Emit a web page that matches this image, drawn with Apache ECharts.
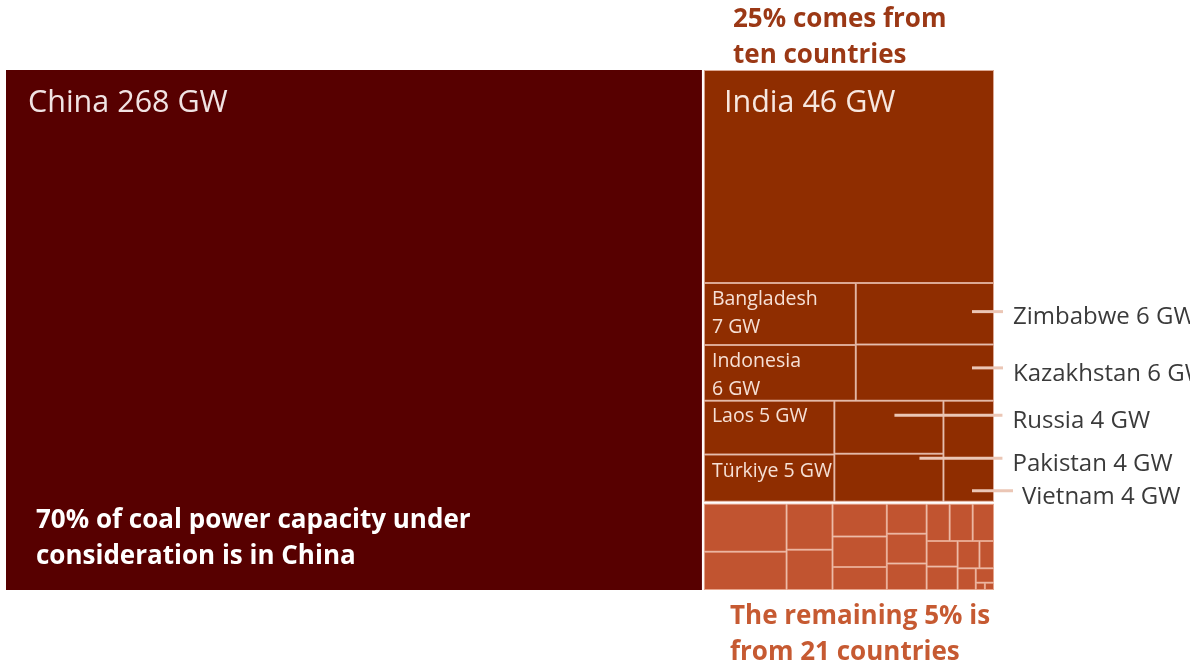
<!DOCTYPE html>
<html>
<head>
<meta charset="utf-8">
<script src="https://cdn.jsdelivr.net/npm/echarts@6/dist/echarts.min.js"></script>
<style>
html,body{margin:0;padding:0;background:#ffffff;}
#chart{width:1190px;height:669px;}
</style>
</head>
<body>
<div id="chart"></div>
<script>
// ---------------- data ----------------
const unit = 'GW';
const chinaName = 'China';
const chinaValue = 268;
const indiaName = 'India';
const indiaValue = 46;
// second band of the "ten countries" block (column order)
const midNames = ['Bangladesh', 'Indonesia', 'Zimbabwe', 'Kazakhstan'];
const midValues = [7, 6.3, 6.3, 5.8];
// third band of the "ten countries" block
const row3Names = ['Laos', 'Türkiye', 'Russia', 'Pakistan', 'Vietnam'];
const row3Values = [5.2, 4.6, 4.3, 3.9, 3.8];
// the remaining 21 countries (unlabelled in the chart)
const remainingValues = [3.0, 2.4, 1.6, 1.4, 1.35, 1.25, 0.95, 0.9, 0.9, 0.8, 0.65,
                         0.65, 0.6, 0.6, 0.55, 0.45, 0.3, 0.3, 0.2, 0.05, 0.05];
const tenNote = ['25% comes from', 'ten countries'];
const chinaNote = ['70% of coal power capacity under', 'consideration is in China'];
const restNote = ['The remaining 5% is', 'from 21 countries'];

// ---------------- styles ----------------
const FONT = '"Open Sans", "Noto Sans", "DejaVu Sans", sans-serif';
const C_CHINA = '#570000';
const C_TEN = '#8f2d00';
const C_REST = '#c15430';
const B_TEN = '#dca893';
const B_REST = '#e6a58c';

function gw(v) { return Math.round(v) + ' ' + unit; }

const innerBase = {
  show: true, position: 'insideTopLeft', distance: 0, overflow: 'none',
  align: 'left', verticalAlign: 'top', fontFamily: FONT
};
const smallLabel = (pad, twoLines) => Object.assign({}, innerBase, {
  fontSize: 19.5, lineHeight: 28, color: '#f6e0d5', padding: pad,
  formatter: p => p.name + (twoLines ? '\n' : ' ') + gw(p.value)
});
const labelStyles = {
  'China': Object.assign({}, innerBase, {fontSize: 30.5, lineHeight: 36, color: '#f1e3e3', padding: [15, 0, 0, 22],
            formatter: p => p.name + ' ' + gw(p.value)}),
  'India': Object.assign({}, innerBase, {fontSize: 30.5, lineHeight: 36, color: '#f7e7df', padding: [14, 0, 0, 19],
            formatter: p => p.name + ' ' + gw(p.value)}),
  'Bangladesh': smallLabel([1, 0, -14, 7], true),
  'Indonesia': smallLabel([1, 0, -14, 7], true),
  'Laos': smallLabel([1, 0, -14, 7], false),
  'Türkiye': smallLabel([2, 0, -14, 7], false)
};
// external labels with a leader line: [dx, dy, lineLength, gap]
const outside = {
  'Zimbabwe':   [-21, 26, 31, 10],
  'Kazakhstan': [-21, 21, 31, 10],
  'Russia':     [-48, 12, 108, 10],
  'Pakistan':   [-23, 2, 83, 10],
  'Vietnam':    [-21, 87.5, 41, 9]
};
function outsideLabel(name) {
  const o = outside[name];
  return {
    show: true, position: ['100%', 0], offset: [o[0], o[1]], distance: 0, padding: 0,
    overflow: 'none', align: 'left', verticalAlign: 'top',
    formatter: p => '{ln|}{tx|' + p.name + ' ' + gw(p.value) + '}',
    rich: {
      ln: {width: o[2], height: 3, backgroundColor: '#ebc6b5', verticalAlign: 'top'},
      tx: {fontFamily: FONT, fontSize: 24, lineHeight: 15, color: '#3a3a3a', padding: [0, 0, 0, o[3]]}
    }
  };
}
function tenLeaf(name, value) {
  return {
    name: name, value: value,
    itemStyle: {color: C_TEN, borderColor: B_TEN, borderWidth: 1},
    label: outside[name] ? outsideLabel(name) : (labelStyles[name] || {show: false})
  };
}
const group = (name, children, gap) => ({name: name, children: children, itemStyle: {borderWidth: 0, gapWidth: gap || 0}});

const treeData = [
  group('all', [
    {name: chinaName, value: chinaValue, itemStyle: {color: C_CHINA, borderWidth: 0}, label: labelStyles[chinaName]},
    group('rest', [
      group('ten', [
        group('top', [
          tenLeaf(indiaName, indiaValue),
          group('mid', midNames.map((n, i) => tenLeaf(n, midValues[i])))
        ]),
        group('row3', row3Names.map((n, i) => tenLeaf(n, row3Values[i])))
      ]),
      group('remaining', remainingValues.map((v, i) => ({
        name: 'other ' + (i + 1), value: v,
        itemStyle: {color: C_REST, borderColor: B_REST, borderWidth: 1},
        label: {show: false}
      })))
    ], 2)
  ], 2)
];

function noteLines(lines, x, y0, step, color, size) {
  return lines.map((t, i) => ({
    type: 'text', x: x, y: y0 + i * step, silent: true, z: 100,
    style: {text: t, fill: color, fontFamily: FONT, fontSize: size, fontWeight: 700, verticalAlign: 'middle', align: 'left'}
  }));
}

const chart = echarts.init(document.getElementById('chart'), null, {renderer: 'canvas'});
chart.setOption({
  animation: false,
  backgroundColor: '#ffffff',
  series: [{
    type: 'treemap',
    left: 6, top: 70, width: 988, height: 520,
    roam: false, nodeClick: false, sort: false, squareRatio: 1.45,
    drillDownIcon: '', visibleMin: 0,
    breadcrumb: {show: false},
    itemStyle: {borderWidth: 0, gapWidth: 0, borderColor: '#ffffff'},
    upperLabel: {show: false},
    label: {show: false},
    emphasis: {disabled: true},
    data: treeData
  }],
  graphic: [].concat(
    noteLines(tenNote, 733, 19.5, 35.6, '#9b3815', 26),
    noteLines(chinaNote, 36, 521, 35.5, '#ffffff', 26),
    noteLines(restNote, 730, 617, 36, '#c65a32', 26)
  )
});
</script>
</body>
</html>
